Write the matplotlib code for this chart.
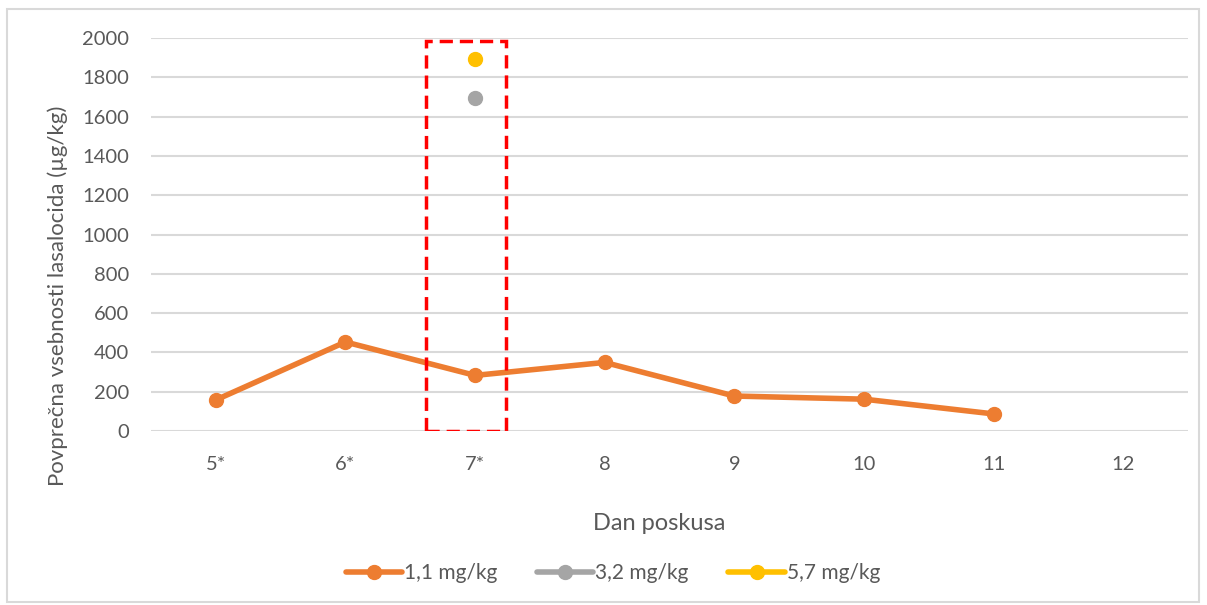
import matplotlib.pyplot as plt
from matplotlib.patches import Rectangle
import numpy as np

days = ["5*", "6*", "7*", "8", "9", "10", "11", "12"]
dose_11 = [158, 453, 283, 349, 178, 162, 87, np.nan]
dose_32 = [np.nan, np.nan, 1695, np.nan, np.nan, np.nan, np.nan, np.nan]
dose_57 = [np.nan, np.nan, 1893, np.nan, np.nan, np.nan, np.nan, np.nan]
labels = ["1,1 mg/kg", "3,2 mg/kg", "5,7 mg/kg"]
colors = ["#ED7D31", "#A5A5A5", "#FFC000"]

# highlighted region around day 7*
box_x0, box_x1 = 1.62, 2.24
box_top = 1985

plt.rcParams["font.family"] = ["Lato", "DejaVu Sans"]
text_col = "#595959"
W, H = 1207, 605

fig = plt.figure(figsize=(W / 100, H / 100), dpi=100)
ax = fig.add_axes([151 / W, 1 - 431 / H, (1188 - 151) / W, (431 - 38) / H])

x = np.arange(len(days))
for vals, lab, col in zip([dose_11, dose_32, dose_57], labels, colors):
    ax.plot(x, vals, color=col, lw=4, marker="o", ms=10, label=lab,
            solid_capstyle="round", zorder=3)

ax.add_patch(Rectangle((box_x0, 0), box_x1 - box_x0, box_top, fill=False,
                       ec="#FF0000", lw=2.5, ls=(0, (3.8, 2)), zorder=4))

ax.set_xlim(-0.5, len(days) - 0.5)
ax.set_ylim(0, 2000)
ax.set_yticks(range(0, 2001, 200))
ax.set_xticks(x)
ax.set_xticklabels(days)
ax.grid(axis="y", color="#D9D9D9", lw=1.5)
ax.set_axisbelow(True)
for s in ax.spines.values():
    s.set_visible(False)
ax.tick_params(length=0, colors=text_col, labelsize=14.5)
ax.tick_params(axis="y", pad=16)
ax.tick_params(axis="x", pad=18)

fig.text(659 / W, 1 - 523 / H, "Dan poskusa", fontsize=17, color=text_col,
         ha="center", va="center")
fig.text(58 / W, 1 - 296 / H, "Povprečna vsebnosti lasalocida (µg/kg)",
         fontsize=16, color=text_col, rotation=90, ha="center", va="center")

fig.legend(loc="center", bbox_to_anchor=(613 / W, 1 - 573 / H), ncol=3,
           frameon=False, fontsize=15, handlelength=2.7, columnspacing=1.9,
           handletextpad=0.1, labelcolor=text_col)

fig.patches.append(Rectangle((7 / W, 1 - 602 / H), 1192 / W, 593 / H,
                             transform=fig.transFigure, fill=False,
                             ec="#D9D9D9", lw=1.5))

fig.savefig("out.png", dpi=100)
